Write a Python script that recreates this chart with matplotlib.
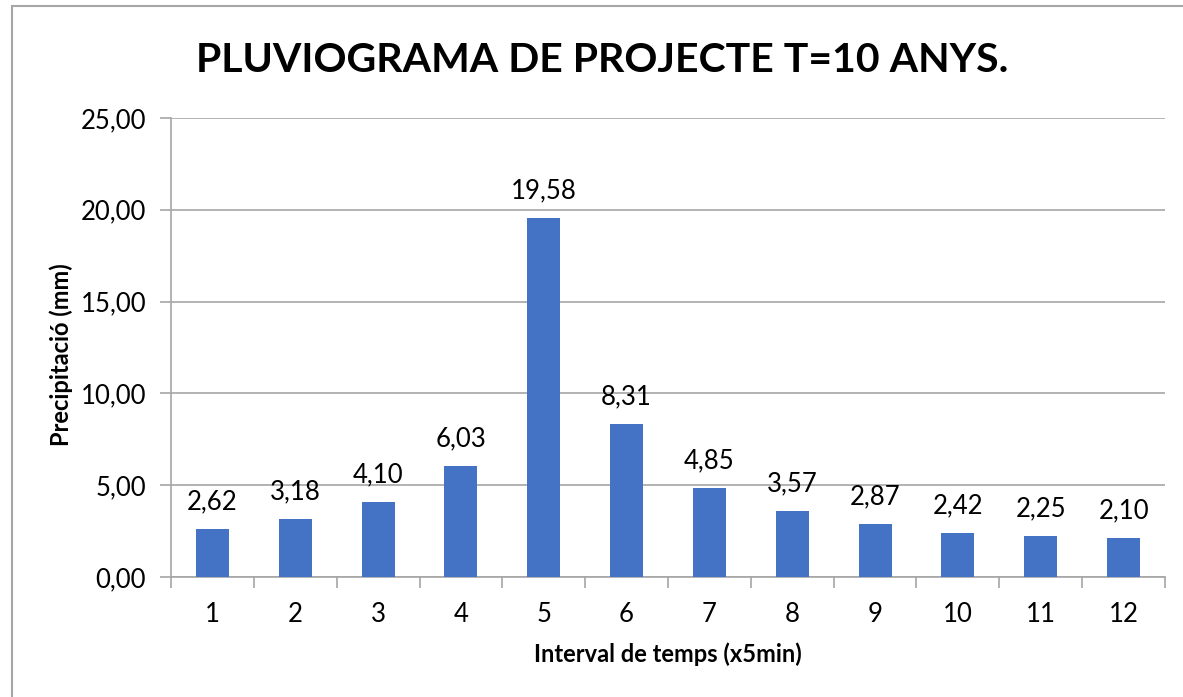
import matplotlib.pyplot as plt
from matplotlib.patches import Rectangle

intervals = [str(i) for i in range(1, 13)]
precip = [2.62, 3.18, 4.10, 6.03, 19.58, 8.31, 4.85, 3.57, 2.87, 2.42, 2.25, 2.10]
yticks = [0, 5, 10, 15, 20, 25]

plt.rcParams['font.family'] = ['Lato', 'DejaVu Sans']

fig = plt.figure(figsize=(11.83, 6.97), dpi=100)
ax = fig.add_axes([171 / 1183, 1 - 577 / 697, (1165 - 171) / 1183, (577 - 118) / 697])

# outer chart frame (left and top edges only visible)
fig.patches.append(Rectangle((12 / 1183, -0.1), 1.2, 1 - 6 / 697 + 0.1,
                             transform=fig.transFigure, fill=False,
                             edgecolor='#a6a6a6', linewidth=1.5))

x = range(len(precip))
ax.bar(x, precip, width=0.4, color='#4472C4', zorder=3)
for i, v in enumerate(precip):
    ax.text(i, v + 0.8, f'{v:.2f}'.replace('.', ','), ha='center', va='bottom', fontsize=18.5)

ax.set_xlim(-0.5, len(precip) - 0.5)
ax.set_ylim(0, 25)
ax.set_yticks(yticks)
ax.set_yticklabels([f'{t:.2f}'.replace('.', ',') for t in yticks], fontsize=18.5)
ax.set_xticks(list(x))
ax.set_xticklabels(intervals, fontsize=18.5)
ax.set_xticks([i - 0.5 for i in range(len(precip) + 1)], minor=True)
ax.tick_params(axis='x', which='major', length=0, pad=18)
ax.tick_params(axis='x', which='minor', length=8, color='#a6a6a6', width=1.2)
ax.tick_params(axis='y', length=8, color='#a6a6a6', width=1.2, pad=10)

ax.grid(axis='y', color='#a6a6a6', linewidth=1.2, zorder=0)
for s in ['top', 'right']:
    ax.spines[s].set_visible(False)
for s in ['left', 'bottom']:
    ax.spines[s].set_color('#a6a6a6')
    ax.spines[s].set_linewidth(1.2)

ax.set_xlabel('Interval de temps (x5min)', fontsize=17, fontweight='bold', labelpad=11)
ax.set_ylabel('Precipitació (mm)', fontsize=17, fontweight='bold')
ax.yaxis.set_label_coords(73 / 1183, 1 - 355 / 697, transform=fig.transFigure)
fig.text(602 / 1183, 1 - 60 / 697, 'PLUVIOGRAMA DE PROJECTE T=10 ANYS.', ha='center', va='center',
         fontsize=29.5, fontweight='bold')

fig.savefig('out.png', dpi=100)
